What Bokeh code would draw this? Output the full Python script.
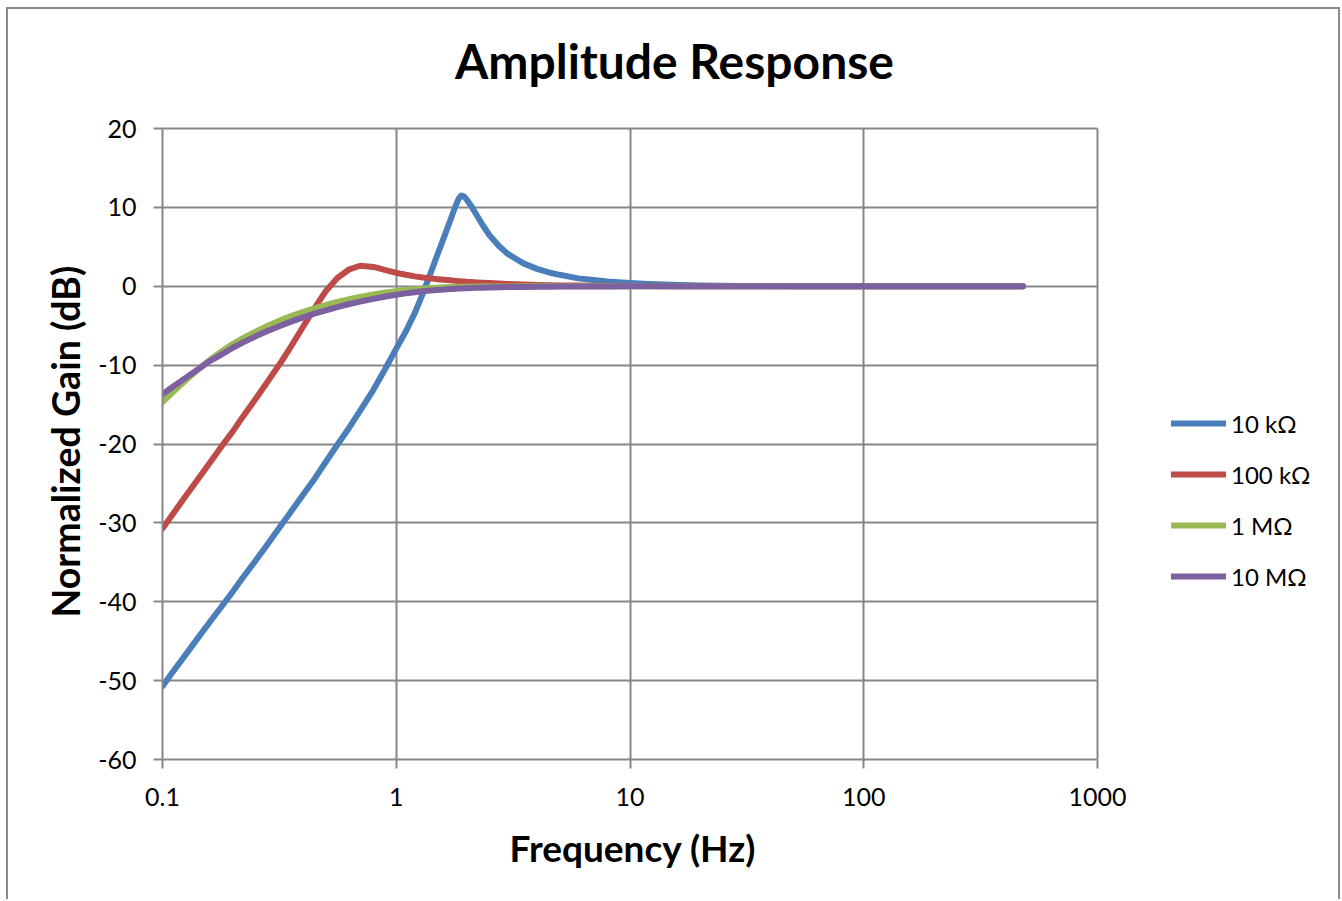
import math
from bokeh.plotting import figure
from bokeh.models import (Range1d, FixedTicker, Legend, LegendItem, Label, Title,
                          BoxAnnotation, Grid)
from bokeh.embed import file_html
from bokeh.resources import INLINE

# ---- data ----
freq_hz = [0.1, 0.11, 0.125, 0.14, 0.16, 0.18, 0.2, 0.22, 0.25, 0.28, 0.32, 0.35, 0.4, 0.45,
           0.5, 0.56, 0.63, 0.7, 0.8, 0.9, 1.0, 1.1, 1.2, 1.3, 1.4, 1.5, 1.6, 1.7, 1.8, 1.85,
           1.9, 1.95, 2.0, 2.1, 2.2, 2.35, 2.5, 2.75, 3.0, 3.5, 4.0, 4.5, 5.0, 6.0, 7.0, 8.0,
           10, 12, 15, 20, 30, 50, 100, 200, 480]

gain_10k = [-50.7, -49.0, -46.8, -44.8, -42.5, -40.5, -38.7, -37.0, -34.8, -32.8, -30.4, -28.8, -26.4, -24.3,
            -22.25, -20.1, -17.9, -15.8, -13.1, -10.4, -7.9, -5.7, -3.4, -0.9, 1.6, 4.0, 6.2, 8.3, 10.3, 11.1,
            11.5, 11.4, 11.0, 10.1, 9.1, 7.7, 6.5, 5.1, 4.1, 2.9, 2.2, 1.75, 1.45, 1.0, 0.78, 0.6,
            0.4, 0.28, 0.18, 0.1, 0.04, 0.01, 0.0, 0.0, 0.0]

gain_100k = [-30.7, -29.0, -26.7, -24.7, -22.3, -20.2, -18.4, -16.6, -14.3, -12.2, -9.7, -7.9, -5.1, -2.65,
             -0.6, 1.05, 2.15, 2.6, 2.45, 2.05, 1.7, 1.45, 1.25, 1.1, 1.0, 0.9, 0.82, 0.75, 0.68, 0.65,
             0.62, 0.6, 0.57, 0.53, 0.49, 0.44, 0.4, 0.34, 0.29, 0.22, 0.17, 0.14, 0.11, 0.08, 0.06, 0.05,
             0.03, 0.02, 0.01, 0.0, 0.0, 0.0, 0.0, 0.0, 0.0]

gain_1M = [-14.7, -13.5, -12.0, -10.7, -9.3, -8.2, -7.3, -6.6, -5.75, -5.05, -4.3, -3.85, -3.25, -2.78,
           -2.38, -2.0, -1.65, -1.36, -1.05, -0.8, -0.62, -0.48, -0.38, -0.3, -0.23, -0.18, -0.14, -0.11, -0.09, -0.08,
           -0.07, -0.06, -0.06, -0.05, -0.04, -0.03, -0.03, -0.02, -0.02, -0.01, -0.01, 0.0, 0.0, 0.0, 0.0, 0.0,
           0.0, 0.0, 0.0, 0.0, 0.0, 0.0, 0.0, 0.0, 0.0]

gain_10M = [-13.7, -12.8, -11.65, -10.65, -9.45, -8.6, -7.8, -7.15, -6.35, -5.7, -5.0, -4.55, -3.95, -3.45,
            -3.05, -2.65, -2.25, -1.95, -1.6, -1.3, -1.07, -0.9, -0.76, -0.64, -0.55, -0.47, -0.41, -0.36, -0.31, -0.29,
            -0.27, -0.26, -0.24, -0.22, -0.2, -0.18, -0.16, -0.13, -0.11, -0.08, -0.06, -0.05, -0.04, -0.03, -0.02, -0.02,
            -0.01, 0.0, 0.0, 0.0, 0.0, 0.0, 0.0, 0.0, 0.0]

series_names = ["10 k\u03a9", "100 k\u03a9", "1 M\u03a9", "10 M\u03a9"]
series_colors = ["#4A7EBB", "#BE4B48", "#98B954", "#7D60A0"]
series_values = [gain_10k, gain_100k, gain_1M, gain_10M]

x_ticks = [0.1, 1, 10, 100, 1000]
x_tick_labels = ["0.1", "1", "10", "100", "1000"]
y_ticks = [20, 10, 0, -10, -20, -30, -40, -50, -60]
y_tick_labels = ["20", "10", "0", "-10", "-20", "-30", "-40", "-50", "-60"]
x_lo, x_hi = 0.1, 1000
y_lo, y_hi = -60, 20

FONT = "Lato"
GRID = "#878787"

# ---- layout (canvas pixels) ----
CANVAS_W, CANVAS_H = 1334, 892
AX_LEFT, AX_RIGHT = 154, 1089      # where x_lo / x_hi sit
AX_TOP, AX_BOTTOM = 119, 750       # where y_hi / y_lo sit
px_per_dec = (AX_RIGHT - AX_LEFT) / math.log10(x_hi / x_lo)
px_per_db = (AX_BOTTOM - AX_TOP) / (y_hi - y_lo)

def x_at(px):      # canvas x pixel -> frequency
    return x_lo * 10 ** ((px - AX_LEFT) / px_per_dec)

def y_at(px):      # canvas y pixel -> dB
    return y_lo + (AX_BOTTOM - px) / px_per_db

# the frame spans the whole canvas right/top part; title and legend live inside it
p = figure(
    width=CANVAS_W, height=CANVAS_H,
    x_axis_type="log",
    x_range=Range1d(x_lo, x_at(CANVAS_W)), y_range=Range1d(y_lo, y_at(0)),
    output_backend="svg", toolbar_location=None,
    min_border_left=AX_LEFT, min_border_right=0,
    min_border_top=0, min_border_bottom=CANVAS_H - AX_BOTTOM,
    styles={"border": "2px solid #8a8a8a", "border-bottom": "none",
            "margin-left": "6px", "margin-top": "7px"},
)
p.background_fill_color = "white"
p.border_fill_color = "white"
p.outline_line_color = None

for ax in (p.xaxis[0], p.yaxis[0]):
    ax.axis_line_color = GRID
    ax.axis_line_width = 2
    ax.major_tick_line_color = GRID
    ax.major_tick_line_width = 2
    ax.major_tick_out = 9
    ax.major_tick_in = 0
    ax.minor_tick_line_color = None
    ax.major_label_text_font = FONT
    ax.major_label_text_font_size = "25px"
    ax.major_label_text_color = "#000000"

p.xaxis.bounds = (x_lo, x_hi)
p.xaxis.ticker = FixedTicker(ticks=x_ticks)
p.xaxis.major_label_overrides = {t: l for t, l in zip(x_ticks, x_tick_labels)}
p.xaxis.major_label_standoff = 19

p.yaxis.bounds = (y_lo, y_hi)
p.yaxis.ticker = FixedTicker(ticks=y_ticks)
p.yaxis.major_label_overrides = {t: l for t, l in zip(y_ticks, y_tick_labels)}
p.yaxis.major_label_standoff = 17

# axis titles, centred on the drawn axes (not on the whole frame)
x_title = Title(text="Frequency (Hz)", align="left", offset=347,
                standoff=28, text_font=FONT, text_font_size="37px",
                text_font_style="bold", text_color="#000000")
p.add_layout(x_title, "below")
y_title = Title(text="Normalized Gain (dB)", align="left", offset=142,
                standoff=16, text_font=FONT, text_font_size="37.5px",
                text_font_style="bold", text_color="#000000")
p.add_layout(y_title, "left")

p.xgrid.ticker = FixedTicker(ticks=x_ticks)
p.ygrid.ticker = FixedTicker(ticks=y_ticks)
for g in (p.xgrid[0], p.ygrid[0]):
    g.grid_line_color = GRID
    g.grid_line_width = 2

if "cross_bounds" in Grid.properties():
    p.xgrid.cross_bounds = (y_lo, y_hi)
    p.ygrid.cross_bounds = (x_lo, x_hi)
else:
    p.add_layout(BoxAnnotation(left=x_hi, fill_color="white", fill_alpha=1,
                               line_color=None, level="underlay"))
    p.add_layout(BoxAnnotation(bottom=y_hi, fill_color="white", fill_alpha=1,
                               line_color=None, level="underlay"))

items = []
for name, color, vals in zip(series_names, series_colors, series_values):
    r = p.line(freq_hz, vals, line_color=color, line_width=6,
               line_cap="round", line_join="round")
    items.append(LegendItem(label=name, renderers=[r]))

legend = Legend(items=items, location=(1009, 168))
legend.border_line_color = None
legend.background_fill_alpha = 0
legend.padding = 0
legend.margin = 0
legend.glyph_width = 55
legend.glyph_height = 30
legend.label_height = 30
legend.spacing = 21
legend.label_standoff = 5
legend.label_text_font = FONT
legend.label_text_font_size = "24px"
legend.label_text_color = "#000000"
p.add_layout(legend, "center")

title = Label(x=x_at(666), y=y_at(50.5), text="Amplitude Response",
              text_align="center", text_baseline="alphabetic",
              text_font=FONT, text_font_size="48px", text_font_style="bold",
              text_color="#000000")
p.add_layout(title)

open("out.html", "w").write(file_html(p, INLINE))
